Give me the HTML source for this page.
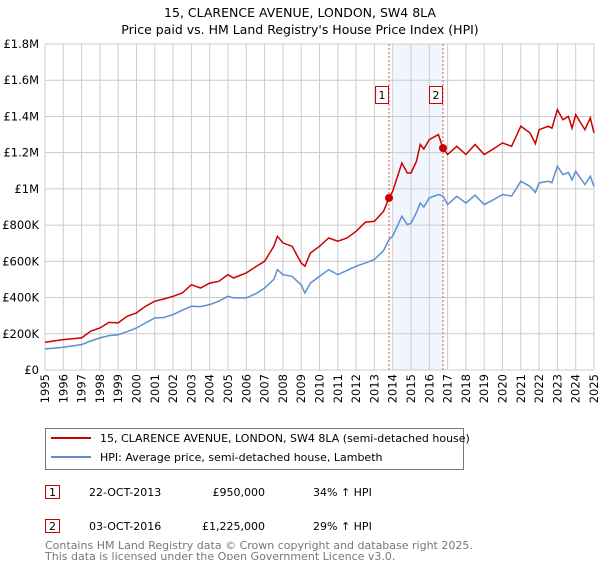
<!DOCTYPE html>
<html><head><meta charset="utf-8"><style>
body{margin:0;background:#fff;font-family:"Liberation Sans","DejaVu Sans",sans-serif;}
svg text{font-family:"DejaVu Sans","Liberation Sans",sans-serif;}
</style></head><body>
<svg id="chart" width="600" height="560" xmlns="http://www.w3.org/2000/svg">
<text x="300" y="17" text-anchor="middle" font-size="12.5">15, CLARENCE AVENUE, LONDON, SW4 8LA</text>
<text x="300" y="34" text-anchor="middle" font-size="12.5">Price paid vs. HM Land Registry's House Price Index (HPI)</text>
<g id="grid"></g>
<g id="marks"></g>
<g id="axes"></g>
<g>
<rect x="45.5" y="428.5" width="418" height="41" fill="#fff" stroke="#777"/>
<line x1="51" y1="438" x2="91" y2="438" stroke="#cc0000" stroke-width="2"/>
<text x="100" y="442" font-size="11">15, CLARENCE AVENUE, LONDON, SW4 8LA (semi-detached house)</text>
<line x1="51" y1="457" x2="91" y2="457" stroke="#5b8fd0" stroke-width="2"/>
<text x="100" y="461" font-size="11">HPI: Average price, semi-detached house, Lambeth</text>
</g>
<g font-size="11">
<rect x="45.5" y="485.5" width="14" height="13" fill="#fff" stroke="#cc0000"/>
<text x="52.5" y="496" text-anchor="middle">1</text>
<text x="89" y="496">22-OCT-2013</text><text x="265" y="496" text-anchor="end">£950,000</text><text x="313" y="496">34% ↑ HPI</text>
<rect x="45.5" y="519.5" width="14" height="13" fill="#fff" stroke="#cc0000"/>
<text x="52.5" y="530" text-anchor="middle">2</text>
<text x="89" y="530">03-OCT-2016</text><text x="265" y="530" text-anchor="end">£1,225,000</text><text x="313" y="530">29% ↑ HPI</text>
</g>
<text x="45" y="549" font-size="11" fill="#777">Contains HM Land Registry data © Crown copyright and database right 2025.</text>
<text x="45" y="560" font-size="11" fill="#777">This data is licensed under the Open Government Licence v3.0.</text>
</svg>
<script>
const years=[1995,1996,1997,1997.5,1998,1998.5,1999,1999.5,2000,2000.5,2001,2001.5,2002,2002.5,2003,2003.5,2004,2004.5,2005,2005.3,2006,2006.5,2007,2007.5,2007.7,2008,2008.5,2009,2009.2,2009.5,2010,2010.5,2011,2011.5,2012,2012.5,2013,2013.5,2013.8,2014,2014.5,2014.8,2015,2015.3,2015.5,2015.7,2016,2016.5,2016.75,2017,2017.5,2018,2018.5,2019,2019.5,2020,2020.5,2021,2021.5,2021.8,2022,2022.5,2022.7,2023,2023.3,2023.6,2023.8,2024,2024.5,2024.8,2025];
const priceSeries=[153,168,177,214,232,263,260,297,315,352,380,392,407,425,471,453,480,490,527,508,536,569,600,683,738,702,683,591,573,646,683,729,711,729,766,816,821,877,950,987,1143,1088,1088,1153,1245,1220,1272,1300,1225,1190,1235,1190,1245,1190,1220,1254,1235,1346,1309,1250,1327,1346,1335,1437,1382,1400,1335,1410,1327,1392,1309];
const hpiSeries=[116,126,140,160,177,190,195,212,232,260,287,290,306,330,352,350,361,380,407,398,398,420,453,500,554,527,517,470,425,480,517,554,527,550,573,590,610,660,720,739,849,803,810,870,922,900,950,969,960,913,959,922,965,913,940,969,960,1042,1014,980,1033,1042,1035,1125,1079,1090,1050,1097,1024,1070,1014];
const yTicks=[0,200,400,600,800,1000,1200,1400,1600,1800];
const yTickLabels=["£0","£200K","£400K","£600K","£800K","£1M","£1.2M","£1.4M","£1.6M","£1.8M"];
const xTicks=[1995,1996,1997,1998,1999,2000,2001,2002,2003,2004,2005,2006,2007,2008,2009,2010,2011,2012,2013,2014,2015,2016,2017,2018,2019,2020,2021,2022,2023,2024,2025];
const sales=[[2013.8,950,"1"],[2016.75,1225,"2"]];
const band=[2014.05,2016.75];
const L=45,R=594,T=44,B=370;
const X=y=>L+(y-1995)/30*(R-L);
const Y=v=>B-v/1800*(B-T);
const NS="http://www.w3.org/2000/svg";
function mk(p,t,a){const e=document.createElementNS(NS,t);for(const k in a)e.setAttribute(k,a[k]);p.appendChild(e);return e;}
const grid=document.getElementById('grid'),marks=document.getElementById('marks'),axes=document.getElementById('axes');
mk(grid,'rect',{x:L,y:T,width:R-L,height:B-T,fill:'#fff'});
const bd=mk(grid,'rect',{x:X(band[0]),y:T,width:X(band[1])-X(band[0]),height:B-T,fill:'#eef3fc',opacity:0.8});


xTicks.forEach(t=>{mk(grid,'line',{x1:X(t),y1:T,x2:X(t),y2:B,stroke:'#ccc','stroke-width':1});
const tx=mk(axes,'text',{x:0,y:0,transform:`translate(${X(t)+4},${B+4}) rotate(-90)`,'text-anchor':'end','font-size':11.5});tx.textContent=t;

});
yTicks.forEach((t,i)=>{mk(grid,'line',{x1:L,y1:Y(t),x2:R,y2:Y(t),stroke:'#ccc','stroke-width':1});
const tx=mk(axes,'text',{x:L-6,y:Y(t)+4,'text-anchor':'end','font-size':11.5});tx.textContent=yTickLabels[i];

});
sales.forEach(s=>{mk(marks,'line',{x1:X(s[0]),y1:T,x2:X(s[0]),y2:B,stroke:'#e05050','stroke-dasharray':'2,2','stroke-width':1});});
const pts=a=>a.map((v,i)=>X(years[i]).toFixed(1)+','+Y(v).toFixed(1)).join(' ');
const hl=mk(marks,'polyline',{points:pts(hpiSeries),fill:'none',stroke:'#5b8fd0','stroke-width':1.5});


const pl=mk(marks,'polyline',{points:pts(priceSeries),fill:'none',stroke:'#cc0000','stroke-width':1.5});


sales.forEach(s=>{const c=mk(marks,'circle',{cx:X(s[0]),cy:Y(s[1]),r:4,fill:'#cc0000'});


const bx=mk(marks,'rect',{x:X(s[0])-13.5,y:86.5,width:13,height:17,fill:'#fff',stroke:'#cc0000'});


const t=mk(marks,'text',{x:X(s[0])-7,y:99,'text-anchor':'middle','font-size':11});t.textContent=s[2];});
</script>
</body></html>
